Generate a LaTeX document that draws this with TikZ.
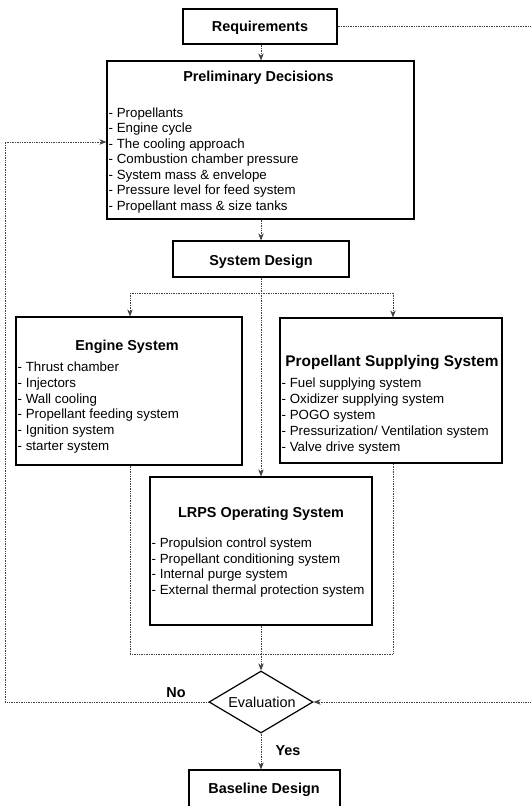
\documentclass[tikz,border=0pt]{standalone}
\usepackage{fontspec}
\setmainfont{Liberation Sans}
\usetikzlibrary{arrows.meta,shapes.geometric}
\begin{document}
\begin{tikzpicture}[x=1pt,y=-1pt,
 box/.style={draw=black, line width=1.2pt, inner sep=0pt},
 conn/.style={densely dotted, line width=0.7pt, draw=black!75},
 tip/.style={-{Stealth[length=7pt,width=5.5pt]}},
 ttl/.style={font=\fontsize{14.4}{16}\selectfont\bfseries, inner sep=0pt, anchor=base},
 itm/.style={font=\fontsize{13.3}{15.5}\selectfont, inner sep=0pt, anchor=base west},
]
\useasboundingbox (0,0) rectangle (531,806);
\clip (0,0) rectangle (531,806);

% boxes
\node[box, minimum width=154pt, minimum height=35pt] (req) at (260,26.5) {};
\node[box, minimum width=307pt, minimum height=158pt] (prel) at (260.5,140) {};
\node[box, minimum width=176pt, minimum height=36pt] (sysd) at (261,259) {};
\node[box, minimum width=226pt, minimum height=148pt] (eng) at (129,391) {};
\node[box, minimum width=222pt, minimum height=145pt] (prop) at (391,390.5) {};
\node[box, minimum width=222pt, minimum height=148pt] (lrps) at (261,551) {};
\node[box, minimum width=151pt, minimum height=45pt] (base) at (264.5,792.5) {};
\node[draw=black, line width=1.2pt, diamond, inner sep=0pt, minimum width=104pt, minimum height=62pt] (eval) at (261,702) {};

% titles
\node[ttl] (reqT) at (260,31) {Requirements};
\node[ttl] (prelT) at (258.5,81) {Preliminary Decisions};
\node[ttl] (sysdT) at (261,265) {System Design};
\node[ttl] (engT) at (127,350) {Engine System};
\node[ttl, font=\fontsize{15.4}{17}\selectfont\bfseries] (propT) at (392,366) {Propellant Supplying System};
\node[ttl] (lrpsT) at (261,517) {LRPS Operating System};
\node[ttl] (baseT) at (264,793) {Baseline Design};
\node[inner sep=0pt, anchor=base, font=\fontsize{14.4}{16}\selectfont] (evalT) at (262,707) {Evaluation};
\node[ttl] (noT) at (176,697) {No};
\node[ttl] (yesT) at (288,755) {Yes};

% item lists
\foreach \t [count=\i from 0] in {Propellants, Engine cycle, The cooling approach, Combustion chamber pressure, System mass \& envelope, Pressure level for feed system, Propellant mass \& size tanks}
  \node[itm] (p\i) at (108.5,117+15.5*\i) {- \t};
\foreach \t [count=\i from 0] in {Thrust chamber, Injectors, Wall cooling, Propellant feeding system, Ignition system, starter system}
  \node[itm] (e\i) at (17.5,371.5+15.8*\i) {- \t};
\foreach \t [count=\i from 0] in {Fuel supplying system, Oxidizer supplying system, POGO system, Pressurization/ Ventilation system, Valve drive system}
  \node[itm] (s\i) at (281.5,387.5+16*\i) {- \t};
\foreach \t [count=\i from 0] in {Propulsion control system, Propellant conditioning system, Internal purge system, External thermal protection system}
  \node[itm] (l\i) at (151.5,547.5+15.7*\i) {- \t};

% connectors
\coordinate (j) at (261,293);
\coordinate (jl) at (130,293);
\coordinate (jr) at (393,293);
\coordinate (m) at (261,654);
\coordinate (L1) at (5,142);
\coordinate (R1) at (545,26.5);

\draw[conn, tip] (req.south -| j) -- (prel.north -| j);
\draw[conn, tip] (prel.south -| j) -- (sysd.north -| j);
\draw[conn] (jl) -- (jr);
\draw[conn, tip] (sysd.south -| j) -- (lrps.north);
\draw[conn, tip] (jl) -- (eng.north -| jl);
\draw[conn, tip] (jr) -- (prop.north -| jr);
\draw[conn] (eng.south -| jl) -- (jl |- m) -- (jr |- m) -- (prop.south -| jr);
\draw[conn] (lrps.south) -- (m);
\draw[conn, tip] (m) -- (eval.north);
\draw[conn, tip] (eval.south) -- (base.north -| eval.south);
\draw[conn, tip] (eval.west) -- (eval.west -| L1) -- (L1) -- (L1 -| prel.west);
\draw[conn, tip] (req.east) -- (R1) -- (R1 |- eval.east) -- (eval.east);
\end{tikzpicture}
\end{document}
